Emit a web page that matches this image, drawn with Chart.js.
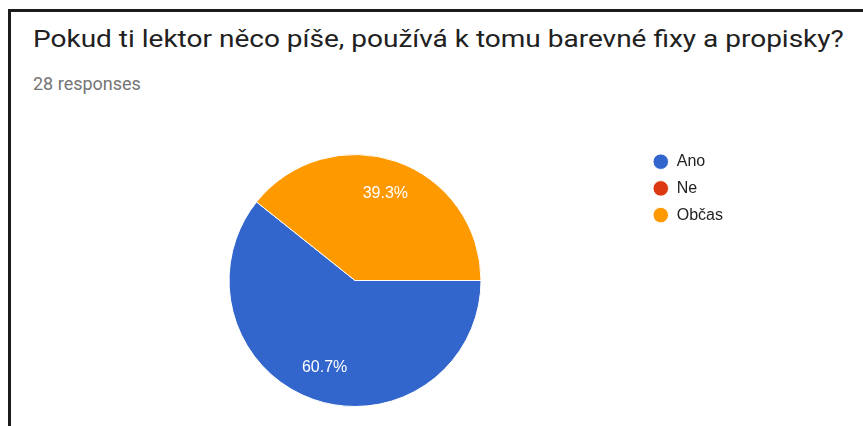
<!DOCTYPE html>
<html>
<head>
<meta charset="utf-8">
<script src="https://cdn.jsdelivr.net/npm/chart.js@4/dist/chart.umd.min.js"></script>
<style>
  html, body { margin: 0; padding: 0; background: #fff; overflow: hidden; }
  #wrap { position: relative; width: 863px; height: 426px; }
  #frame {
    position: absolute; left: 8px; top: 9px; width: 900px; height: 500px;
    border-left: 3px solid #1c1c1c; border-top: 3px solid #1c1c1c;
  }
  #title {
    position: absolute; left: 33px; top: 26.5px; white-space: nowrap;
    font: 24px Roboto, sans-serif; line-height: 24px; color: #212121;
    transform: scaleX(1.167); transform-origin: 0 0;
  }
  #subtitle {
    position: absolute; left: 33px; top: 75px; white-space: nowrap;
    font: 18px Roboto, sans-serif; line-height: 18px; color: #757575;
  }
  #chart { position: absolute; left: 0; top: 0; }
</style>
</head>
<body>
<div id="wrap">
  <div id="frame"></div>
  <div id="title">Pokud ti lektor něco píše, používá k tomu barevné fixy a propisky?</div>
  <div id="subtitle">28 responses</div>
  <canvas id="chart" width="863" height="426"></canvas>
</div>
<script>
// answers and counts (28 responses)
const answers = ["Ano", "Ne", "Občas"];
const counts = [17, 0, 11];
const sliceColors = ["#3366cc", "#dc3912", "#ff9900"];

// percentage labels inside the slices
const sliceLabels = {
  id: "sliceLabels",
  afterDatasetsDraw(chart) {
    const ctx = chart.ctx;
    const meta = chart.getDatasetMeta(0);
    const total = counts.reduce((a, b) => a + b, 0);
    ctx.save();
    ctx.font = "16px Arial, 'Liberation Sans', sans-serif";
    ctx.fillStyle = "#ffffff";
    ctx.textAlign = "center";
    ctx.textBaseline = "middle";
    meta.data.forEach((arc, i) => {
      if (!counts[i]) return;
      const p = arc.getProps(["x", "y", "startAngle", "endAngle", "outerRadius"], true);
      const mid = (p.startAngle + p.endAngle) / 2;
      const r = p.outerRadius * 0.73;
      const txt = (counts[i] / total * 100).toFixed(1) + "%";
      ctx.fillText(txt, p.x + Math.cos(mid) * r, p.y + Math.sin(mid) * r);
    });
    ctx.restore();
  }
};

const ctx = document.getElementById("chart").getContext("2d");
const chart = new Chart(ctx, {
  type: "pie",
  data: {
    labels: answers,
    datasets: [{
      data: counts,
      backgroundColor: sliceColors,
      borderColor: "#ffffff",
      borderWidth: 1
    }]
  },
  options: {
    responsive: false,
    animation: false,
    rotation: 90,
    radius: 126,
    layout: {
      padding: { top: 143, bottom: 8, left: 68, right: 130 }
    },
    plugins: {
      tooltip: { enabled: false },
      legend: {
        position: "right",
        align: "start",
        labels: {
          usePointStyle: true,
          pointStyle: "circle",
          boxHeight: 11,
          padding: 10.7,
          color: "#222222",
          font: { family: "Arial, 'Liberation Sans', sans-serif", size: 16 }
        }
      }
    }
  },
  plugins: [sliceLabels]
});
</script>
</body>
</html>
